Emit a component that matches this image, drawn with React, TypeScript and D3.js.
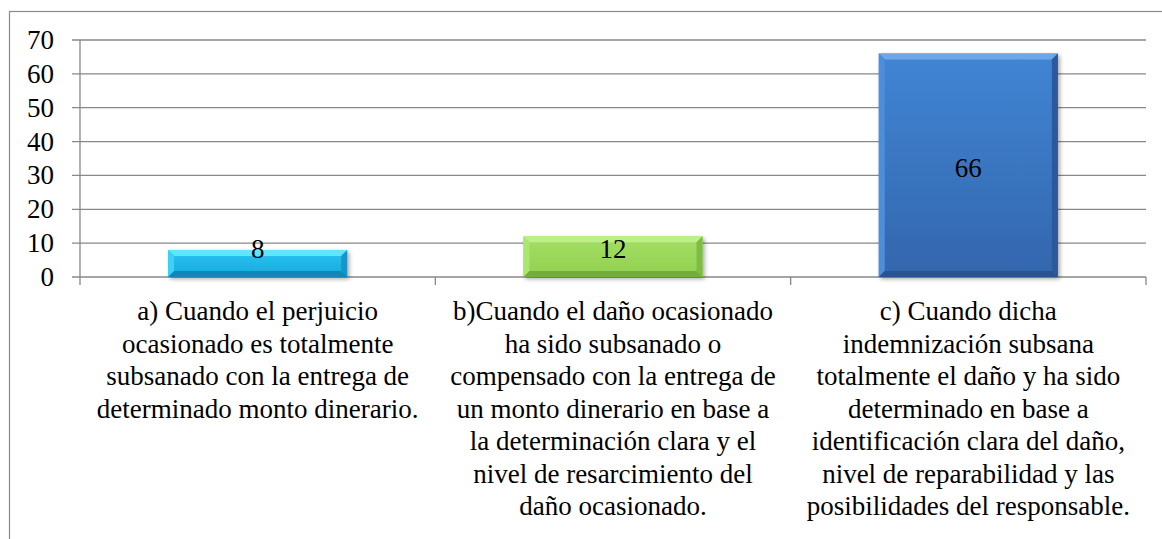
import React from "react";
import * as d3 from "d3";

const categories = ["a", "b", "c"];
const values = [8, 12, 66];
const labelLines = [
  ["a) Cuando el perjuicio", "ocasionado es totalmente", "subsanado con la entrega de", "determinado monto dinerario."],
  ["b)Cuando el daño ocasionado", "ha sido subsanado o", "compensado con la entrega de", "un monto dinerario en base a", "la determinación clara y el", "nivel de resarcimiento del", "daño ocasionado."],
  ["c) Cuando dicha", "indemnización subsana", "totalmente el daño y ha sido", "determinado en base a", "identificación clara del daño,", "nivel de reparabilidad y las", "posibilidades del responsable."],
];
const yTicks = [0, 10, 20, 30, 40, 50, 60, 70];

const palettes = [
  { top: "#5fe6fc", left: "#3fd0f4", right: "#1596c6", bottom: "#1386b8", f1: "#2ac4f2", f2: "#17a8dc" },
  { top: "#bdf087", left: "#ace670", right: "#80bb45", bottom: "#74ad3b", f1: "#a3de62", f2: "#92d052" },
  { top: "#6ea6e8", left: "#4d8edb", right: "#2b5a9c", bottom: "#295392", f1: "#4185d4", f2: "#3366ad" },
];

const W = 1162, H = 539;
const left = 80, right = 1146, top = 40, bottom = 277;
const FONT = '"Liberation Serif", Tinos, "Times New Roman", "DejaVu Serif", serif';

export default function App() {
  const x = d3.scaleBand<string>().domain(categories).range([left, right]).paddingInner(0).paddingOuter(0);
  const y = d3.scaleLinear().domain([0, 70]).range([bottom, top]);
  const bw = x.bandwidth() * 0.504;
  const bev = 6;
  const boundaries = [left, ...categories.map((c) => (x(c) as number) + x.bandwidth())];
  const ts = { fontFamily: FONT, fontSize: "27px" };

  return (
    <svg width={W} height={H} style={{ position: "absolute", left: 0, top: 0, background: "#fff", fontFamily: FONT }}>
      <defs>
        <filter id="sh" x="-20%" y="-20%" width="140%" height="140%">
          <feDropShadow dx="2" dy="2" stdDeviation="2" floodColor="#000" floodOpacity="0.35" />
        </filter>
        {palettes.map((p, i) => (
          <linearGradient key={i} id={`g${i}`} x1="0" y1="0" x2="0" y2="1">
            <stop offset="0" stopColor={p.f1} />
            <stop offset="1" stopColor={p.f2} />
          </linearGradient>
        ))}
      </defs>
      <rect x={9.5} y={11.5} width={W + 20} height={H + 20} fill="#fff" stroke="#8a8a8a" strokeWidth={1.2} />
      {yTicks.map((t) => (
        <line key={t} x1={72} x2={right} y1={y(t)} y2={y(t)} stroke="#888" strokeWidth={1.3} />
      ))}
      <line x1={left} x2={left} y1={top} y2={bottom + 8} stroke="#888" strokeWidth={1.3} />
      {boundaries.slice(1).map((b, i) => (
        <line key={i} x1={b} x2={b} y1={bottom} y2={bottom + 8} stroke="#888" strokeWidth={1.3} />
      ))}
      {yTicks.map((t) => (
        <text key={t} x={54} y={y(t) + 9} textAnchor="end" style={ts} fill="#000">{t}</text>
      ))}
      {categories.map((c, i) => {
        const cx = (x(c) as number) + x.bandwidth() / 2;
        const x0 = cx - bw / 2, x1 = cx + bw / 2;
        const y0 = y(values[i]), y1 = y(0);
        const p = palettes[i];
        const pts = (a: number[][]) => a.map((q) => q.join(",")).join(" ");
        const mid = (y0 + y1) / 2;
        const ly = Math.min(mid + 3, y1 - 28);
        return (
          <g key={c}>
            <rect x={x0} y={y0} width={bw} height={y1 - y0} fill={`url(#g${i})`} filter="url(#sh)" />
            <polygon points={pts([[x0, y0], [x1, y0], [x1 - bev, y0 + bev], [x0 + bev, y0 + bev]])} fill={p.top} />
            <polygon points={pts([[x0, y0], [x0 + bev, y0 + bev], [x0 + bev, y1 - bev], [x0, y1]])} fill={p.left} />
            <polygon points={pts([[x1, y0], [x1, y1], [x1 - bev, y1 - bev], [x1 - bev, y0 + bev]])} fill={p.right} />
            <polygon points={pts([[x0, y1], [x0 + bev, y1 - bev], [x1 - bev, y1 - bev], [x1, y1]])} fill={p.bottom} />
            <text x={cx} y={ly + 9} textAnchor="middle" style={ts} fill="#000">{values[i]}</text>
            {labelLines[i].map((ln, j) => (
              <text key={j} x={cx} y={320 + j * 32.5} textAnchor="middle" style={ts} fill="#000">{ln}</text>
            ))}
          </g>
        );
      })}
    </svg>
  );
}
